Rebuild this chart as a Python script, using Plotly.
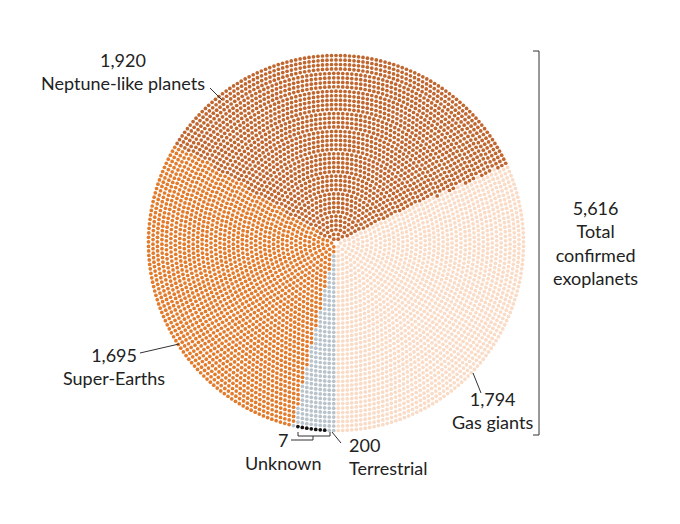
import numpy as np
import plotly.graph_objects as go

# ---- data ----
categories = ["Gas giants", "Neptune-like planets", "Super-Earths", "Terrestrial", "Unknown"]
counts = [1794, 1920, 1695, 200, 7]
total = 5616
colors = ["#f9dbc6", "#c0662f", "#e27b2b", "#b9c3cb", "#111111"]

# ---- dot layout (concentric rings) ----
W, H = 680, 524
OFF = 8  # page body margin
cx, cy = 336, 243
R_out = 187.5
N = 42
k = np.arange(1, N + 1)
n_k = np.round(2 * np.pi * k * total / (np.pi * N * (N + 1))).astype(int)
n_k[-1] += total - n_k.sum()
rs, phs = [], []
for kk, n in zip(k, n_k):
    r = R_out * kk / N
    j = np.arange(n)
    ph = (j + 0.5) * 360.0 / n
    rs.append(np.full(n, r))
    phs.append(ph)
rs = np.concatenate(rs)
phs = np.concatenate(phs)
order = np.lexsort((-rs, phs))
rs, phs = rs[order], phs[order]
theta = np.deg2rad(-90 + phs)
xs = cx + rs * np.cos(theta)
ys = cy - rs * np.sin(theta)

labels = np.empty(total, dtype=object)
start = 0
for name, c in zip(categories[:3], counts[:3]):
    labels[start:start + c] = name
    start += c
grp = np.arange(start, total)  # terrestrial + unknown
labels[grp] = "Terrestrial"
outer = grp[rs[grp] >= rs[grp].max() - 1e-6]
nu = counts[4]
off = max(0, (len(outer) - nu) // 2)
labels[outer[off:off + nu]] = "Unknown"

fig = go.Figure()
for name, col in zip(categories, colors):
    m = labels == name
    fig.add_trace(go.Scatter(x=xs[m], y=ys[m], mode="markers",
                             marker=dict(size=3.7, color=col, line=dict(width=0)),
                             hoverinfo="skip", showlegend=False, name=name))

font = dict(family="Lato, Open Sans, sans-serif", size=18, color="#222222")
ann = [
    (123, 71, "1,920<br>Neptune-like planets", "center"),
    (114, 366, "1,695<br>Super-Earths", "center"),
    (492, 410, "1,794<br>Gas giants", "center"),
    (283, 451, "7<br>Unknown", "center"),
    (347, 456, "200<br>Terrestrial", "left"),
    (595, 243, "5,616<br>Total<br>confirmed<br>exoplanets", "center"),
]
for x, y, t, al in ann:
    xanchor = "left" if al == "left" else "center"
    fig.add_annotation(x=x, y=y, text=t, showarrow=False, xref="x", yref="y",
                       xanchor=xanchor, yanchor="middle", align=al, font=font)

lc = "#333333"
shapes = [
    dict(type="line", x0=210, y0=88, x1=222, y1=100),
    dict(type="line", x0=140, y0=353, x1=179, y1=344),
    dict(type="line", x0=473, y0=373, x1=481, y1=393),
    dict(type="line", x0=332, y0=432, x1=341, y1=443),
    dict(type="path", path="M 298 432 L 298 436 L 330 436 L 330 432 M 313 436 L 313 440 L 291 440"),
    dict(type="path", path="M 533 51 L 539 51 L 539 435 L 533 435"),
]
for s in shapes:
    s.update(xref="x", yref="y", line=dict(color=lc, width=1))
    fig.add_shape(**s)

fig.update_layout(
    width=W, height=H, margin=dict(l=0, r=0, t=0, b=0),
    paper_bgcolor="white", plot_bgcolor="white",
    xaxis=dict(range=[OFF, W + OFF], visible=False, fixedrange=True),
    yaxis=dict(range=[H + OFF, OFF], visible=False, fixedrange=True),
)
fig.write_html("out.html")
